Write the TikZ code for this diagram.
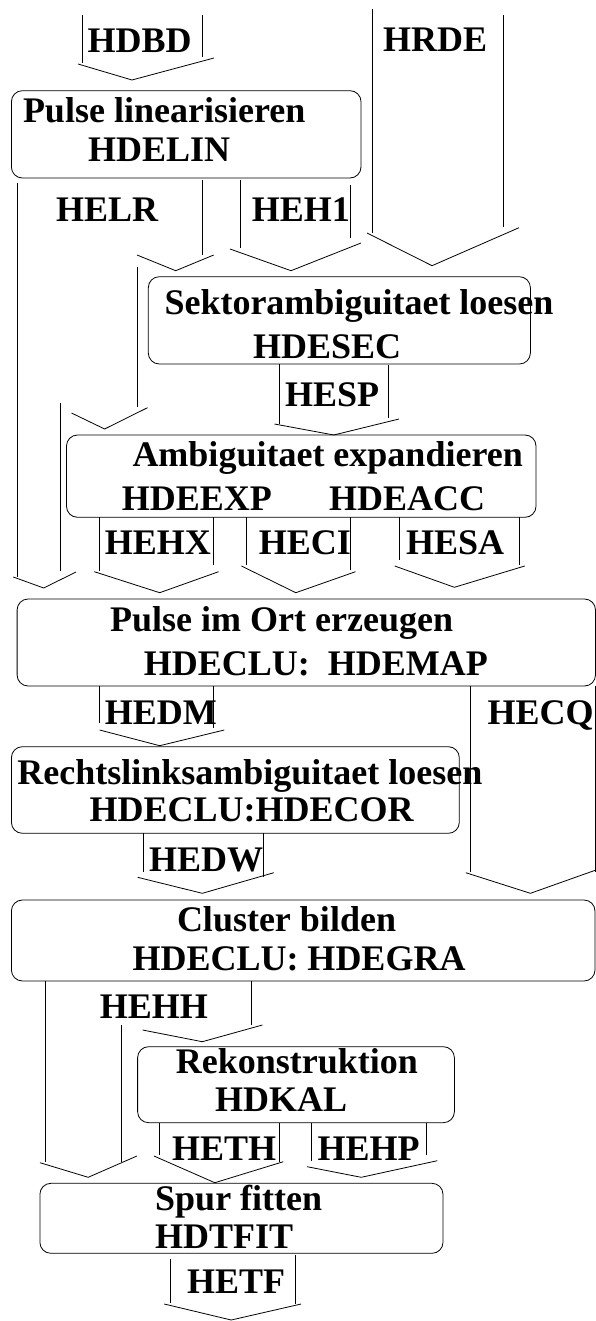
\documentclass[tikz,border=0pt]{standalone}
\usepackage{fontspec}
\setmainfont{Liberation Serif}
\begin{document}
\begin{tikzpicture}[x=1pt,y=-1pt,
  box/.style={draw,line width=0.8pt,rounded corners=11pt,inner sep=0pt,outer sep=0pt},
  lbl/.style={anchor=base west,inner sep=0pt,font=\fontsize{36}{36}\selectfont\bfseries},
  ln/.style={line width=0.8pt},
  chev/.style={line width=0.8pt,line join=miter}]
\useasboundingbox (0,0) rectangle (596,1321);
% ---------- boxes ----------
\node[box,minimum width=349.6pt,minimum height=87.3pt] (lin) at (186.2,134.35) {};
\node[box,minimum width=382.1pt,minimum height=87.3pt] (sec) at (339.35,320.35) {};
\node[box,minimum width=469.5pt,minimum height=82.3pt] (exp) at (301.25,476.15) {};
\node[box,minimum width=578.4pt,minimum height=87pt] (ort) at (306.3,642.5) {};
\node[box,minimum width=447.9pt,minimum height=86.6pt] (cor) at (235.35,790) {};
\node[box,minimum width=583.6pt,minimum height=81pt] (gra) at (303.2,940.5) {};
\node[box,minimum width=316.8pt,minimum height=76pt] (kal) at (296,1084.7) {};
\node[box,minimum width=403.1pt,minimum height=70pt] (fit) at (241.45,1218.3) {};
% ---------- box texts ----------
\node[lbl] (t1a) at (22.8,123) {Pulse linearisieren};
\node[lbl] (t1b) at (88,162) {HDELIN};
\node[lbl] (t2a) at (164.3,315) {Sektorambiguitaet loesen};
\node[lbl] (t2b) at (252.9,358.3) {HDESEC};
\node[lbl] (t3a) at (132.3,466.7) {Ambiguitaet expandieren};
\node[lbl] (t3b) at (121.7,510.7) {HDEEXP};
\node[lbl] (t3c) at (328.9,510.7) {HDEACC};
\node[lbl] (t4a) at (110,631.7) {Pulse im Ort erzeugen};
\node[lbl] (t4b) at (143.7,675) {HDECLU:\ \ HDEMAP};
\node[lbl] (t5a) at (17.1,784) {Rechtslinksambiguitaet loesen};
\node[lbl] (t5b) at (89.4,821.7) {HDECLU:HDECOR};
\node[lbl] (t6a) at (176.8,931.7) {Cluster bilden};
\node[lbl] (t6b) at (132.3,970) {HDECLU: HDEGRA};
\node[lbl] (t7a) at (175.7,1073.3) {Rekonstruktion};
\node[lbl] (t7b) at (214.8,1111.7) {HDKAL};
\node[lbl] (t8a) at (155,1210) {Spur fitten};
\node[lbl] (t8b) at (155,1248.3) {HDTFIT};
% ---------- arrow labels ----------
\node[lbl] (hdbd) at (87.5,53) {HDBD};
\node[lbl] (hrde) at (383,51.7) {HRDE};
\node[lbl] (helr) at (56,222) {HELR};
\node[lbl] (heh1) at (251.7,221.7) {HEH1};
\node[lbl] (hesp) at (285,406.7) {HESP};
\node[lbl] (hehx) at (104.6,554) {HEHX};
\node[lbl] (heci) at (258.6,554) {HECI};
\node[lbl] (hesa) at (406,554) {HESA};
\node[lbl] (hedm) at (104.6,724) {HEDM};
\node[lbl] (hecq) at (487.5,724) {HECQ};
\node[lbl] (hedw) at (149,871) {HEDW};
\node[lbl] (hehh) at (99.6,1018.3) {HEHH};
\node[lbl] (heth) at (171.9,1160) {HETH};
\node[lbl] (hehp) at (317.5,1160) {HEHP};
\node[lbl] (hetf) at (187,1293.3) {HETF};
% ---------- arrows ----------
% HDBD
\draw[ln] (82.5,15) -- (82.5,63);
\draw[ln] (202.7,15) -- (202.7,57);
\draw[chev] (78,64) -- (132,80) -- (214,58);
% HRDE
\draw[ln] (371.9,9.3) -- (371.9,232.7);
\draw[ln] (503.8,15) -- (503.8,226.7);
\draw[chev] (367,233) -- (432,265.7) -- (519,227.7);
% HELR
\draw[ln] (17,183) -- (17,577);
\draw[ln] (202.7,180) -- (202.7,255);
\draw[chev] (137,255) -- (175.7,270.7) -- (213.7,255);
\draw[ln] (137,267) -- (137,407);
\draw[chev] (71.5,413) -- (104.6,429) -- (147.5,407.7);
\draw[ln] (60.8,402.7) -- (60.8,570.7);
\draw[chev] (13.3,577) -- (43.7,588) -- (76,572);
% HEH1
\draw[ln] (240.7,180) -- (240.7,248);
\draw[ln] (350,185) -- (350,238);
\draw[chev] (230,249) -- (291,270.7) -- (361,243);
% HESP
\draw[ln] (279.5,364) -- (279.5,424);
\draw[ln] (388.6,365) -- (388.6,418.3);
\draw[chev] (274.5,424) -- (333.8,435) -- (399,419);
% HEHX
\draw[ln] (99.6,517.3) -- (99.6,570.7);
\draw[ln] (213.7,517.3) -- (213.7,565);
\draw[chev] (94.3,571.7) -- (159.7,592.7) -- (218.6,571.7);
% HECI
\draw[ln] (246.4,517.3) -- (246.4,565);
\draw[ln] (350.6,517.3) -- (350.6,570);
\draw[chev] (241.4,566) -- (295.8,592.7) -- (355.5,571.7);
% HESA
\draw[ln] (399.2,517.3) -- (399.2,560);
\draw[ln] (519.8,517.3) -- (519.8,565);
\draw[chev] (394.7,566) -- (454.4,587.3) -- (524.7,566);
% HEDM
\draw[ln] (99.6,686) -- (99.6,723.3);
\draw[ln] (213.7,686) -- (213.7,728.3);
\draw[chev] (99.6,730) -- (159.7,745.7) -- (224.3,730);
% HECQ
\draw[ln] (470.7,686) -- (470.7,871.7);
\draw[ln] (595,686) -- (595,871.7);
\draw[chev] (465.8,872.7) -- (530.4,893.3) -- (596,870);
% HEDW
\draw[ln] (143.3,833.3) -- (143.3,871.7);
\draw[ln] (263,833.3) -- (263,876.7);
\draw[chev] (137.6,877.3) -- (202.3,893.3) -- (273.8,872.7);
% HEHH
\draw[ln] (44.9,981) -- (44.9,1161.7);
\draw[ln] (120.9,1025) -- (120.9,1161.7);
\draw[ln] (251.7,981) -- (251.7,1025);
\draw[chev] (142.6,1030) -- (202.3,1041.7) -- (262.4,1025);
\draw[chev] (40,1162.7) -- (88.2,1177.3) -- (136.9,1156);
% HETH
\draw[ln] (158.9,1122.7) -- (158.9,1155);
\draw[ln] (279.5,1122.7) -- (279.5,1161.7);
\draw[chev] (154,1156) -- (214.8,1182.7) -- (283.3,1161.7);
% HEHP
\draw[ln] (311.8,1122.7) -- (311.8,1160.7);
\draw[ln] (426.6,1122.7) -- (426.6,1155);
\draw[chev] (307.2,1166.7) -- (361.2,1177.3) -- (437.3,1160.7);
% HETF
\draw[ln] (170,1259.3) -- (170,1303.3);
\draw[ln] (295.8,1255) -- (295.8,1304);
\draw[chev] (164.3,1304) -- (231.2,1320) -- (301.1,1304);
\end{tikzpicture}
\end{document}
